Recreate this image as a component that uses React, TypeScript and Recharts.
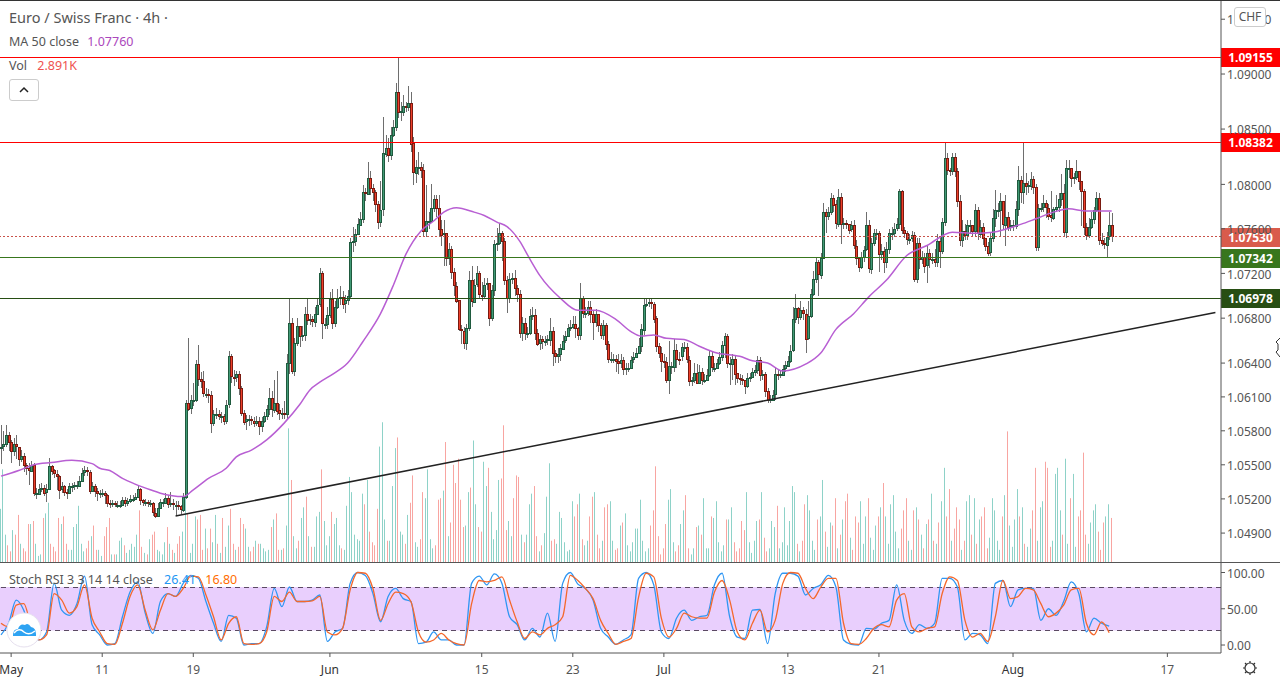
import { ComposedChart, Bar, Line, XAxis, YAxis, ReferenceLine, ReferenceArea } from "recharts";

// prices are pips above 1.0000 (753 = 1.0753), one entry per 4h candle
const opens = [566,566,568,576,570,562,568,566,555,558,550,547,545,550,525,525,529,530,526,529,549,545,542,540,528,531,526,525,531,531,532,532,536,543,545,544,527,531,527,525,525,525,523,516,515,516,515,515,515,519,516,518,520,520,522,529,519,517,517,516,516,508,505,512,517,517,521,516,516,515,515,514,511,522,605,600,607,607,639,626,624,613,613,612,587,595,595,593,593,589,603,646,628,627,630,618,596,588,590,590,589,587,589,585,589,593,599,609,599,605,598,595,596,595,640,676,633,658,673,664,665,684,679,679,677,684,692,720,675,675,683,697,676,690,698,699,693,696,700,748,749,755,764,769,793,792,806,797,793,782,766,777,828,833,827,845,852,884,866,866,871,870,874,837,811,816,816,813,758,767,767,779,787,779,760,755,756,734,742,721,709,696,670,669,658,671,714,695,710,720,701,700,710,711,680,705,746,747,756,749,714,698,715,716,707,702,667,676,667,667,682,683,667,657,661,659,660,661,669,649,646,648,653,660,664,671,672,675,671,665,698,685,685,690,684,677,684,674,665,674,657,644,644,644,642,640,643,635,636,636,643,645,649,655,670,692,693,694,693,680,655,649,642,641,625,637,637,652,644,646,654,654,643,624,625,631,622,632,625,625,629,646,636,636,640,645,656,664,640,640,644,631,627,626,625,620,627,628,632,634,643,630,630,615,607,608,612,630,629,630,635,638,642,651,679,689,681,687,684,662,682,702,715,730,719,734,775,771,775,788,782,765,789,765,765,764,759,763,745,734,726,735,741,763,724,747,756,756,737,740,730,742,756,756,760,764,794,759,756,751,751,754,715,747,733,735,727,738,733,733,730,749,740,766,824,813,812,825,812,785,750,758,754,763,763,758,777,756,762,752,745,739,752,770,777,777,785,764,771,762,763,763,778,804,793,801,798,799,805,798,744,779,779,783,779,772,770,778,780,787,792,757,815,815,806,807,812,803,794,762,755,762,769,777,788,750,747,746,753,763];
const closes = [566,568,576,570,562,568,566,555,558,550,547,545,550,525,525,529,530,526,529,549,545,542,540,528,531,526,525,531,531,532,532,536,543,545,544,527,531,527,525,525,525,523,516,515,516,515,515,515,519,516,518,520,520,522,529,519,517,517,516,516,508,505,512,517,517,521,516,516,515,515,514,511,522,605,600,607,607,639,626,624,613,613,612,587,595,595,593,593,589,603,646,628,627,630,618,596,588,590,590,589,587,589,585,589,593,599,609,599,605,598,595,596,595,640,676,633,658,673,664,665,684,679,679,677,684,692,720,675,675,683,697,676,690,698,699,693,696,700,748,749,755,764,769,793,792,806,797,793,782,766,777,828,833,827,845,852,884,866,866,871,870,874,837,811,816,816,813,758,767,767,779,787,779,760,755,756,734,742,721,709,696,670,669,658,671,714,695,710,720,701,700,710,711,680,705,746,747,756,749,714,698,715,716,707,702,667,676,667,667,682,683,667,657,661,659,660,661,669,649,646,648,653,660,664,671,672,675,671,665,698,685,685,690,684,677,684,674,665,674,657,644,644,644,642,640,643,635,636,636,643,645,649,655,670,692,693,694,693,680,655,649,642,641,625,637,637,652,644,643,654,654,643,624,625,631,622,632,625,625,629,646,636,636,640,645,656,664,640,640,644,631,627,626,625,620,627,628,632,634,643,630,630,615,607,608,612,630,629,630,635,638,642,651,679,689,681,687,684,662,682,702,715,730,719,734,775,771,775,788,782,765,789,765,765,764,759,763,745,734,726,735,741,763,724,747,756,756,737,740,730,742,756,756,760,764,794,759,756,751,751,754,715,747,733,735,727,738,733,733,730,749,740,766,824,813,812,825,812,785,750,758,754,763,763,758,777,756,762,752,745,739,752,770,777,777,785,764,771,762,763,763,778,804,793,801,798,799,805,798,744,779,779,783,779,772,770,778,780,787,792,757,815,815,806,807,812,803,794,762,755,762,769,777,788,750,747,746,753,763,753];
const highs = [585,580,585,579,572,574,576,566,563,560,552,552,553,552,530,533,534,532,533,556,550,546,545,541,535,532,529,534,534,535,536,540,547,549,548,545,535,533,530,528,529,527,524,519,519,518,518,518,522,522,521,523,523,525,532,530,520,520,519,519,517,512,516,520,520,525,523,526,520,518,518,515,525,607,662,612,622,643,656,632,633,618,617,615,598,600,598,597,595,607,651,648,634,633,633,620,598,594,594,593,592,593,592,592,597,603,618,615,625,633,604,600,606,648,698,680,662,680,668,673,690,697,684,682,690,698,725,722,680,690,703,706,695,706,709,704,701,705,752,762,760,770,775,799,797,820,812,800,795,785,803,861,845,842,852,858,892,915,875,881,875,889,884,843,822,829,820,818,799,775,800,790,790,790,768,768,750,747,745,725,712,696,674,672,675,722,727,715,727,722,712,716,716,710,710,750,761,765,758,752,718,720,720,723,710,705,681,680,672,688,690,688,670,665,664,664,665,680,672,652,653,657,665,669,675,678,682,682,672,711,700,690,695,695,686,688,684,676,678,676,660,650,648,647,648,648,645,640,640,646,650,653,662,675,698,698,698,698,694,682,658,654,648,645,660,641,661,657,650,658,659,658,646,628,640,639,638,636,630,635,652,650,640,644,650,660,667,666,645,648,647,630,630,629,625,631,631,636,638,646,645,634,632,618,612,616,636,634,634,638,642,646,656,690,702,690,695,690,688,695,706,722,735,732,738,783,778,780,792,790,786,796,792,770,768,764,767,768,750,735,739,745,775,768,752,760,760,758,746,744,748,760,762,765,770,796,795,762,758,755,758,757,752,752,740,738,745,742,738,742,755,753,770,838,828,815,828,828,815,790,768,764,768,768,762,782,780,768,765,752,748,756,778,795,783,792,784,790,775,768,768,785,817,808,838,810,803,811,808,800,782,783,790,786,782,794,780,790,792,809,800,822,822,815,810,822,808,802,796,765,770,775,780,793,792,756,752,757,775,774];
const lows = [551,562,566,562,552,558,555,549,552,543,541,533,544,523,520,524,526,522,517,529,541,538,527,520,525,522,520,524,526,528,529,531,535,540,540,524,526,522,519,521,522,516,513,512,513,513,512,512,514,513,514,516,517,519,521,515,514,514,513,513,505,503,505,511,513,515,512,513,510,505,510,507,508,520,597,595,602,606,620,618,610,609,605,578,584,590,589,587,585,586,600,622,620,623,612,593,585,581,584,585,583,584,576,579,587,590,594,592,596,594,590,590,590,590,630,630,628,655,655,660,660,674,674,672,672,685,690,661,670,670,680,670,672,688,692,688,685,692,698,740,745,755,762,765,785,790,790,785,775,760,762,772,825,820,822,843,848,860,858,862,866,866,830,800,801,808,806,752,752,760,765,775,770,752,745,727,727,727,715,700,693,668,657,652,652,668,690,695,708,697,695,698,705,673,678,700,740,745,731,710,685,693,710,700,695,662,660,660,662,665,678,660,655,652,652,655,656,655,637,640,640,642,652,658,665,668,670,662,660,660,680,680,682,675,660,672,668,662,660,652,640,640,640,632,630,636,629,629,632,635,640,644,648,650,665,690,690,688,675,650,645,632,636,622,613,630,632,636,638,642,650,640,619,620,622,621,622,621,622,625,628,632,632,636,638,642,645,636,620,625,620,622,620,620,613,618,623,627,628,630,624,625,610,605,605,606,608,625,627,628,632,636,640,650,676,675,678,678,649,660,680,700,712,700,715,733,756,768,772,775,760,762,746,760,760,755,757,742,728,722,724,731,740,720,720,745,750,721,732,721,725,738,750,752,758,760,755,752,745,746,748,712,712,724,728,720,712,725,728,726,725,725,738,762,808,808,808,806,780,744,744,750,750,756,754,752,750,752,745,740,735,735,748,762,770,752,760,744,758,758,758,760,772,784,782,790,792,795,792,740,740,775,775,770,768,766,768,775,775,780,752,752,806,798,800,804,795,762,755,750,752,760,765,775,745,744,742,735,750,748];
// volume in hundreds of contracts
const volumes = [35,61,18,11,7,21,18,31,12,9,7,25,25,27,12,4,5,29,32,39,12,10,7,29,25,30,12,8,8,23,25,37,12,7,9,14,17,24,8,8,4,17,23,29,5,5,5,14,16,11,6,8,12,10,18,34,10,6,5,15,18,20,8,7,5,13,23,12,8,6,12,17,20,54,32,6,12,30,28,31,8,22,9,22,13,31,12,6,29,10,24,35,12,8,10,29,25,22,10,7,10,14,12,12,9,7,8,23,28,32,8,
8,9,24,88,54,17,9,14,29,36,43,17,10,10,30,33,61,27,11,17,33,25,29,11,9,8,37,56,46,18,15,14,45,38,54,20,13,11,35,76,92,28,14,14,50,75,82,20,18,12,31,39,57,13,10,15,46,42,61,15,9,11,41,42,47,79,17,26,64,52,68,41,23,24,46,49,80,38,23,20,66,50,62,33,15,21,54,55,90,21,27,17,42,57,56,18,13,18,38,45,50,17,7,11,19,43,65,14,15,12,33,29,13,7,8,40,30,38,45,15,11,14,30,43,46,18,9,14,36,38,40,14,8,9,24,26,32,11,7,13,22,22,41,14,7,9,24,34,63,17,5,9,25,41,48,13,7,11,25,34,44,9,5,9,23,24,18,42,9,9,30,29,40,13,7,11,28,28,36,13,7,9,27,21,46,13,6,14,27,28,46,16,7,9,27,23,37,
9,13,36,11,27,50,46,12,7,14,38,44,34,14,8,28,30,54,20,10,26,24,42,9,18,28,40,45,16,8,30,26,40,12,30,42,16,8,24,30,36,52,30,12,38,44,20,9,22,34,42,14,8,34,36,28,18,9,25,28,45,14,12,26,40,62,30,48,14,22,36,28,8,14,40,44,18,42,12,28,30,36,9,16,42,34,14,8,30,44,86,24,10,28,48,30,36,12,10,22,34,62,14,36,40,66,62,10,14,58,62,34,18,68,12,42,58,10,30,34,72,18,12,26,34,38,20,8,26,30,38,29];

const maIndex = [0,7,13,20,28,36,39,43,48,53,59,63,72,76,82,89,93,99,105,112,118,122,126,131,137,143,150,155,160,166,171,175,180,187,191,196,200,205,209,213,221,228,235,243,249,253,258,263,270,276,283,292,297,303,309,318,324,330,337,343,350,358,366,376,385,392,403,409,416,422,429,439];
const maValues = [540,545,550,552,554,551,547,545,538,533,528,525,522,528,538,547,557,563,572,587,603,616,623,630,640,659,684,709,737,758,767,775,779,775,772,766,762,749,733,718,698,687,687,679,668,664,665,662,661,655,649,646,642,640,633,639,649,670,684,699,714,736,745,757,756,757,764,769,775,778,776,776];

// stochastic RSI sampled every third candle
const stochK = [14,30,62,48,14,7,18,85,48,41,57,95,28,14,0,2,39,73,87,44,16,60,71,67,85,96,92,60,30,5,41,37,0,2,2,25,78,53,80,60,60,62,69,5,18,23,85,100,96,71,32,67,78,
64,60,2,4,18,7,7,0,0,85,95,83,98,85,39,28,7,23,11,44,5,85,100,84,78,62,23,11,1,7,14,92,100,83,18,9,37,48,34,39,41,83,99,39,11,9,48,49,2,71,99,99,
95,69,78,83,96,80,7,1,0,23,22,30,34,83,34,16,28,23,30,92,92,80,7,16,14,2,85,89,53,76,78,78,34,50,41,60,87,71,18,37,30,26];
const stochD = [30,25,55,57,25,7,14,71,62,44,53,83,37,18,2,1,30,67,83,48,21,48,71,67,78,95,94,69,39,7,30,39,2,1,2,18,67,60,73,60,60,61,67,18,14,23,76,100,99,78,34,57,73,
71,60,18,4,7,16,7,2,0,57,89,87,89,94,62,32,9,18,14,23,28,39,96,89,78,64,34,16,1,5,9,66,99,94,37,11,23,44,39,37,37,73,89,62,18,7,30,48,18,34,85,100,
99,78,64,80,92,92,30,2,1,9,23,28,25,62,71,25,18,23,25,71,94,89,34,11,16,5,39,89,64,67,78,76,57,39,44,55,76,78,30,14,32,17];

const priceTicks = [1.095,1.09,1.085,1.08,1.076,1.072,1.068,1.064,1.061,1.058,1.055,1.052,1.049];
const stochTicks = [0,50,100];
const timeTicks = [4,40,76,130,190,226,262,311,347,400,461];
const timeLabels = ["May","11","19","Jun","15","23","Jul","13","21","Aug","17"];

const levels = [
  { price: 1.09155, color: "#ff0000", tag: "#ff0000" },
  { price: 1.08382, color: "#ff0000", tag: "#ff0000" },
  { price: 1.07342, color: "#38761d", tag: "#38761d" },
  { price: 1.06978, color: "#274e13", tag: "#274e13" },
];

const toPrice = (p: number) => 1 + p / 10000;

const rows = closes.map((c, i) => ({
  i,
  open: toPrice(opens[i]),
  close: toPrice(c),
  high: toPrice(highs[i]),
  low: toPrice(lows[i]),
  range: [toPrice(lows[i]), toPrice(highs[i])],
  volume: volumes[i] ?? 0,
}));
const maRows = maIndex.map((i, n) => ({ i, ma: toPrice(maValues[n]) }));
const stochRows = stochK.map((k, n) => ({ i: n * 3, k, d: stochD[n] }));

const Candle = (props: any) => {
  const { x, y, width, height, payload } = props;
  const { open, close, high, low } = payload;
  const cx = Math.floor(x + width / 2);
  const at = (v: number) => y + ((high - v) / (high - low)) * height;
  const up = close >= open;
  const top = at(Math.max(open, close));
  const bottom = at(Math.min(open, close));
  return (
    <g>
      <rect x={cx} y={Math.round(y)} width={1} height={Math.round(height)} fill="#6e6e6e" />
      <rect
        x={cx - 0.5}
        y={Math.round(top) + 0.5}
        width={2}
        height={Math.max(Math.round(bottom - top), 1)}
        fill={up ? "#419a76" : "#ee3f2a"}
        stroke={up ? "#1f5a3e" : "#7a1a10"}
        strokeWidth={1}
      />
    </g>
  );
};

const VolumeBar = (props: any) => {
  const { x, y, width, height, payload } = props;
  return (
    <rect
      x={Math.floor(x + width / 2)}
      y={y}
      width={1}
      height={height}
      fill={payload.close >= payload.open ? "#8ed2c8" : "#f8a5a1"}
    />
  );
};

const TimeTick = (props: any) => {
  const { x, y, payload } = props;
  const label = timeLabels[timeTicks.indexOf(payload.value)];
  const isMonth = isNaN(Number(label));
  return (
    <text x={x} y={y + 15} textAnchor="middle" fontSize={12} fill={isMonth ? "#333" : "#555"}>
      {label}
    </text>
  );
};

const priceTag = (price: number, color: string) => (props: any) => (
  <g>
    <rect x={1221} y={Math.round(props.viewBox.y) - 9} width={59} height={19} fill={color} />
    <text x={1250.5} y={Math.round(props.viewBox.y) + 5} textAnchor="middle" fontSize={12} fontWeight={700} fill="#fff">
      {price.toFixed(5)}
    </text>
  </g>
);

const tickStyle = { fontSize: 12, fill: "#555", dy: 1 };
const legendFont = { position: "absolute" as const, left: 9, whiteSpace: "nowrap" as const, color: "#555", lineHeight: "16px" };

export default function App() {
  return (
    <div style={{ position: "absolute", left: 0, top: 0, width: 1280, height: 680, background: "#fff", overflow: "hidden", fontFamily: "Noto Sans" }}>
      <div style={{ position: "absolute", top: 0 }}>
        <ComposedChart width={1280} height={562} data={rows} margin={{ top: 0, right: 0, bottom: 0, left: 0 }}>
          <XAxis dataKey="i" type="number" domain={[-0.4, 482.2]} hide />
          <YAxis yAxisId="vol" domain={[0, 370]} hide />
          <YAxis
            yAxisId="price"
            orientation="right"
            scale="log"
            domain={[1.04647, 1.09676]}
            allowDataOverflow
            ticks={priceTicks}
            interval={0}
            width={59}
            tick={tickStyle}
            tickSize={4}
            stroke="#555"
            tickFormatter={(v: number) => v.toFixed(5)}
          />
          <Bar yAxisId="vol" dataKey="volume" barSize={1} shape={VolumeBar} isAnimationActive={false} />
          <Bar yAxisId="price" dataKey="range" barSize={3} shape={Candle} isAnimationActive={false} />
          <Line yAxisId="price" data={maRows} dataKey="ma" type="monotone" stroke="#b85fd3" strokeWidth={1.5} dot={false} isAnimationActive={false} />
          <ReferenceLine
            yAxisId="price"
            segment={[{ x: 69, y: toPrice(505) }, { x: 480, y: toPrice(685) }]}
            stroke="#222"
            strokeWidth={1.5}
          />
          {levels.map((l) => (
            <ReferenceLine key={l.price} yAxisId="price" y={l.price} stroke={l.color} strokeWidth={1} shapeRendering="crispEdges" label={priceTag(l.price, l.tag)} />
          ))}
          <ReferenceLine yAxisId="price" y={1.0753} stroke="#c9524a" strokeWidth={1} strokeDasharray="2 2" shapeRendering="crispEdges" label={priceTag(1.0753, "#d95b4c")} />
        </ComposedChart>
      </div>
      <div style={{ position: "absolute", top: 562 }}>
        <ComposedChart width={1280} height={118} data={stochRows} margin={{ top: 0, right: 0, bottom: 0, left: 0 }}>
          <XAxis
            dataKey="i"
            type="number"
            domain={[-0.4, 482.2]}
            ticks={timeTicks}
            interval={0}
            height={27}
            tick={TimeTick}
            tickSize={4}
            stroke="#555"
          />
          <YAxis
            orientation="right"
            domain={[-11, 114.5]}
            allowDataOverflow
            ticks={stochTicks}
            interval={0}
            width={59}
            tick={tickStyle}
            tickSize={4}
            stroke="#555"
            tickFormatter={(v: number) => v.toFixed(2)}
          />
          <ReferenceArea y1={20} y2={80} fill="#e9cffd" fillOpacity={1} stroke="none" />
          <ReferenceLine y={80} stroke="#5b4a63" strokeDasharray="5 4" shapeRendering="crispEdges" />
          <ReferenceLine y={20} stroke="#5b4a63" strokeDasharray="5 4" shapeRendering="crispEdges" />
          <Line dataKey="k" type="monotone" stroke="#2f96f3" strokeWidth={1.3} dot={false} isAnimationActive={false} />
          <Line dataKey="d" type="monotone" stroke="#f4682c" strokeWidth={1.3} dot={false} isAnimationActive={false} />
        </ComposedChart>
      </div>

      <div style={{ position: "absolute", left: 0, top: 0, width: 1280, height: 1, background: "#333" }} />
      <div style={{ position: "absolute", left: 0, top: 562, width: 1280, height: 1, background: "#555" }} />

      <div style={{ ...legendFont, top: 9, fontSize: 14.5 }}>Euro / Swiss Franc · 4h ·</div>
      <div style={{ ...legendFont, top: 34, fontSize: 12.5 }}>
        MA 50 close <span style={{ color: "#ab47bc", marginLeft: 5 }}>1.07760</span>
      </div>
      <div style={{ ...legendFont, top: 58, fontSize: 12.5 }}>
        Vol <span style={{ color: "#ef5350", marginLeft: 7 }}>2.891K</span>
      </div>
      <div style={{ position: "absolute", left: 9, top: 79, width: 28, height: 20, border: "1px solid #ccc", borderRadius: 3, background: "#fff" }}>
        <svg width={28} height={20}>
          <path d="M10 12 L14 8 L18 12" fill="none" stroke="#222" strokeWidth={1.5} />
        </svg>
      </div>
      <div style={{ position: "absolute", left: 1234, top: 7, width: 30, height: 18, border: "1px solid #ccc", borderRadius: 3, background: "#fff", color: "#555", fontSize: 12, textAlign: "center", lineHeight: "18px" }}>
        CHF
      </div>
      <div style={{ ...legendFont, top: 572, fontSize: 12.5 }}>
        Stoch RSI 3 3 14 14 close <span style={{ color: "#2196f3", marginLeft: 8 }}>26.41</span>{" "}
        <span style={{ color: "#ff6d00", marginLeft: 6 }}>16.80</span>
      </div>

      <svg style={{ position: "absolute", left: 0, top: 0, pointerEvents: "none" }} width={1280} height={680}>
        <circle cx={24} cy={630} r={17} fill="#fff" stroke="#e6e0ee" />
        <path d="M13 635 Q13 629 18 629 Q20 623 25 625 Q28 622 31 627 Q36 628 36 634 L36 636 L13 636 Z" fill="#2ea3f2" />
        <path d="M14 633 Q19 627 24 632 Q29 636 35 631" fill="none" stroke="#fff" strokeWidth={1.5} />
        <circle cx={1250} cy={668} r={5} fill="none" stroke="#333" strokeWidth={1.2} />
        <path d="M1250 661 V663 M1250 673 V675 M1243 668 H1245 M1255 668 H1257 M1245 663 L1246.5 664.5 M1253.5 671.5 L1255 673 M1245 673 L1246.5 671.5 M1253.5 664.5 L1255 663" stroke="#333" strokeWidth={1.2} />
        <path d="M1280 338 L1276 342 L1278 344 L1278 350 L1276 352 L1280 357" fill="#fff" stroke="#333" />
      </svg>
    </div>
  );
}
